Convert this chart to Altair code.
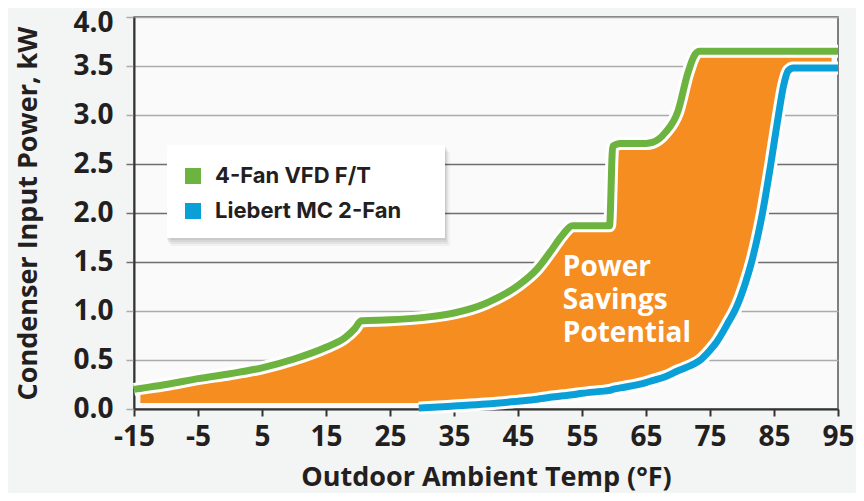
import altair as alt
import pandas as pd

# ---- data ----
temps = [-15, -14, -10, -5, 0, 5, 10, 15, 18, 19.5, 20.5, 25, 29.5, 31, 35, 40, 45, 48, 50, 52,
         53.5, 55, 58, 59.3, 59.8, 61, 65, 66, 68, 70, 71.5, 72.5, 73.3, 75, 76, 78, 79, 80.5,
         81.5, 83.2, 84.5, 85.7, 86.5, 87.2, 88, 90, 94, 95]
fan4_vfd = [0.20, 0.21, 0.25, 0.31, 0.36, 0.42, 0.51, 0.63, 0.73, 0.82, 0.90, 0.91, 0.93, 0.94,
            0.98, 1.08, 1.26, 1.43, 1.60, 1.78, 1.87, 1.87, 1.87, 1.87, 2.68, 2.71, 2.71, 2.72,
            2.82, 3.04, 3.42, 3.60, 3.65, 3.65, 3.65, 3.65, 3.65, 3.65, 3.65, 3.65, 3.65, 3.65,
            3.65, 3.65, 3.65, 3.65, 3.65, 3.65]
liebert = [None, None, None, None, None, None, None, None, None, None, None, None, 0.01, 0.015,
           0.03, 0.05, 0.08, 0.10, 0.12, 0.135, 0.145, 0.16, 0.18, 0.19, 0.20, 0.215, 0.27, 0.29,
           0.33, 0.39, 0.43, 0.46, 0.49, 0.60, 0.68, 0.90, 1.02, 1.28, 1.50, 2.00, 2.50, 3.00,
           3.30, 3.45, 3.48, 3.48, 3.48, 3.48]
series_names = ["4-Fan VFD F/T", "Liebert MC 2-Fan"]
series_colors = ["#6db33f", "#0a9fd6"]
savings_floor = 0.06
savings_start, savings_end = -14, 94
annotation = "Power\nSavings\nPotential"
annotation_x, annotation_y = 52, 1.58
x_ticks = [-15, -5, 5, 15, 25, 35, 45, 55, 65, 75, 85, 95]
y_ticks = [0, 0.5, 1.0, 1.5, 2.0, 2.5, 3.0, 3.5, 4.0]

ORANGE = "#f58d20"
DARK = "#231f20"
FONT = "Open Sans"

wide = pd.DataFrame({"temp": temps, "green": fan4_vfd, "blue": liebert})
green_df = pd.DataFrame({"temp": temps, "kw": fan4_vfd, "series": series_names[0]})
blue_df = pd.DataFrame({"temp": temps, "kw": liebert, "series": series_names[1]}).dropna()

area_df = wide[(wide.temp >= savings_start) & (wide.temp <= savings_end)].copy()
area_df["low"] = area_df["blue"].fillna(savings_floor).clip(lower=savings_floor)

xscale = alt.Scale(domain=[-15, 95], nice=False, zero=False)
yscale = alt.Scale(domain=[0, 4], nice=False)
cscale = alt.Scale(domain=series_names, range=series_colors)

grid_cond = {"condition": {"test": "datum.value >= 1.4 && datum.value <= 2.6", "value": "#6e6e6e"},
             "value": "#ababab"}

x_axis = alt.Axis(values=x_ticks, title="Outdoor Ambient Temp (°F)", grid=False,
                  labelExpr="datum.value < 0 ? '-' + abs(datum.value) : '' + datum.value",
                  tickSize=7, tickWidth=2, tickColor="#333", domainColor="#333", domainWidth=2,
                  labelFont=FONT, labelFontSize=28, labelFontWeight="bold", labelColor=DARK,
                  labelPadding=7, labelFlush=False,
                  titleFont=FONT, titleFontSize=27, titleFontWeight="bold", titleColor=DARK,
                  titlePadding=13)
y_axis = alt.Axis(values=y_ticks, format=".1f", title="Condenser Input Power, kW",
                  grid=True, gridColor=grid_cond, gridWidth=1.5,
                  tickSize=8, tickWidth=1.5, tickColor=grid_cond, domainColor="#333", domainWidth=2,
                  labelFont=FONT, labelFontSize=28, labelFontWeight="bold", labelColor=DARK,
                  labelPadding=13,
                  labelOffset={"condition": {"test": "datum.value >= 3.9", "value": 6}, "value": 0},
                  titleFont=FONT, titleFontSize=27, titleFontWeight="bold", titleColor=DARK,
                  titlePadding=30)

area = alt.Chart(area_df).mark_area(color=ORANGE, opacity=1, interpolate="monotone").encode(
    x=alt.X("temp:Q", scale=xscale, axis=x_axis),
    y=alt.Y("low:Q", scale=yscale, axis=y_axis),
    y2="green:Q",
)


def halo(df):
    return alt.Chart(df).mark_line(color="white", strokeWidth=13, strokeJoin="round",
                                   interpolate="monotone").encode(
        x=alt.X("temp:Q", scale=xscale), y=alt.Y("kw:Q", scale=yscale))


def line(df, color):
    return alt.Chart(df).mark_line(color=color, strokeWidth=7, strokeJoin="round",
                                   interpolate="monotone").encode(
        x=alt.X("temp:Q", scale=xscale), y=alt.Y("kw:Q", scale=yscale))


label = alt.Chart(pd.DataFrame({"temp": [annotation_x], "kw": [annotation_y], "t": [annotation]})).mark_text(
    align="left", baseline="top", lineBreak="\n", font=FONT, fontSize=28, fontWeight="bold",
    color="white", lineHeight=33,
).encode(x=alt.X("temp:Q", scale=xscale), y=alt.Y("kw:Q", scale=yscale), text="t:N")

# legend box with soft shadow
one = pd.DataFrame({"a": [0]})
shadows = []
for dx, dy, op in [(1, 2, 0.05), (2, 4, 0.06), (3, 6, 0.05), (5, 8, 0.04)]:
    shadows.append(alt.Chart(one).mark_rect(color="black", opacity=op).encode(
        x=alt.value(33 + dx - 1), x2=alt.value(311 + dx), y=alt.value(128 + dy - 1), y2=alt.value(221 + dy)))
box = alt.Chart(one).mark_rect(color="white").encode(
    x=alt.value(33), x2=alt.value(311), y=alt.value(128), y2=alt.value(221))

legend_df = pd.DataFrame({"series": series_names, "temp": [None, None], "kw": [None, None]})
legend_layer = alt.Chart(legend_df).mark_square(size=256, opacity=1).encode(
    x=alt.X("temp:Q", scale=xscale),
    y=alt.Y("kw:Q", scale=yscale),
    color=alt.Color("series:N", scale=cscale, legend=alt.Legend(
        title=None, orient="none", legendX=48, legendY=148, padding=0, zindex=1,
        symbolType="square", symbolSize=256, symbolStrokeWidth=0, symbolOpacity=1,
        labelFont="Inter", labelFontSize=22, labelFontWeight="bold", labelColor=DARK,
        labelLimit=400, labelOffset=11, rowPadding=13)),
)

chart = alt.layer(area, halo(green_df), halo(blue_df), line(green_df, series_colors[0]),
                  line(blue_df, series_colors[1]), label, *shadows, box, legend_layer).properties(
    width=704, height=392,
    autosize=alt.AutoSizeParams(type="none"),
    padding={"left": 126, "top": 9, "right": 18, "bottom": 84},
    background="#f3f4f4",
).configure_view(fill="#fafafa", stroke="#555", strokeWidth=1.5)

chart.save("out.html", embed_options={"renderer": "svg", "actions": False})
